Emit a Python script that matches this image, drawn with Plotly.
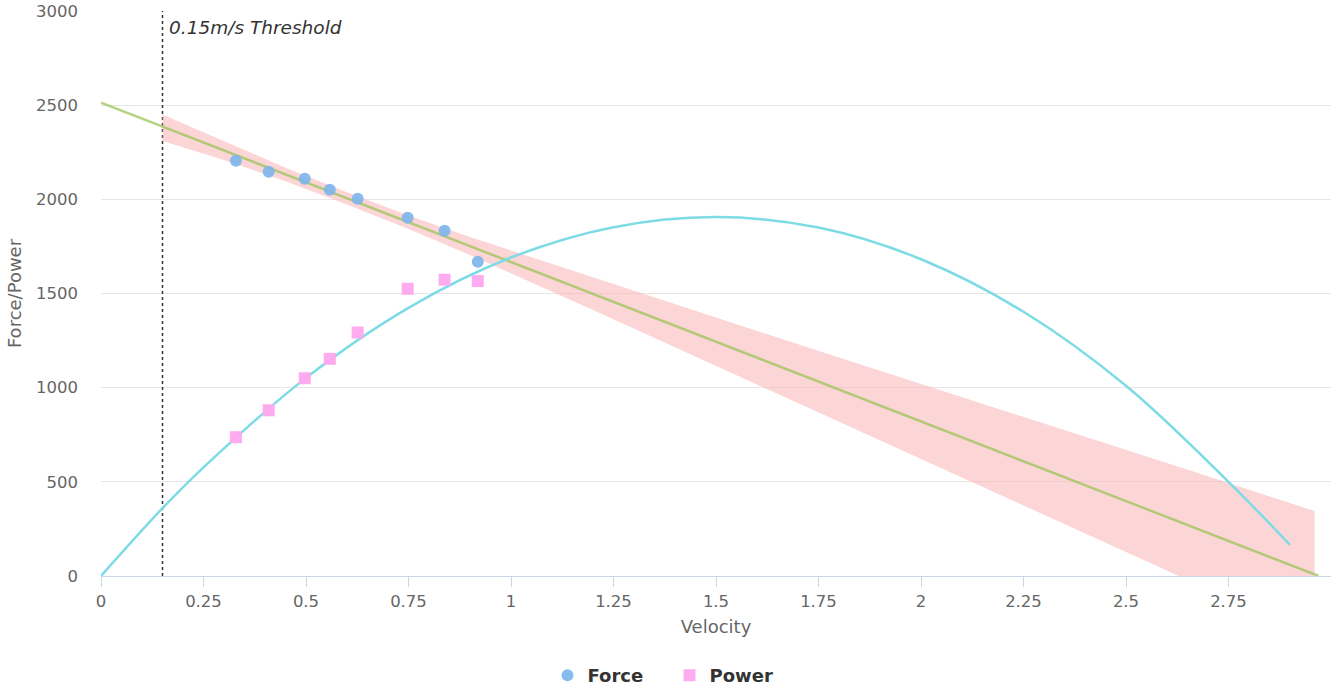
import plotly.graph_objects as go

velocity = [0.329, 0.409, 0.497, 0.558, 0.626, 0.748, 0.838, 0.919]
force = [2205, 2147, 2109, 2051, 2003, 1902, 1833, 1668]
power = [737, 880, 1050, 1153, 1293, 1525, 1573, 1566]

# Force-velocity regression line (end points)
fit_v = [0.0, 2.97]
fit_f = [2513, 0]

# Confidence band around regression
band_v = [0.15, 0.3, 0.45, 0.6, 0.75, 0.9, 1.2, 1.5, 1.8, 2.1, 2.4, 2.7, 2.96]
band_upper = [2450, 2309, 2168, 2037, 1914, 1800, 1584, 1372, 1160, 951, 738, 529, 345]
band_lower = [2310, 2209, 2096, 1973, 1842, 1704, 1412, 1116, 820, 521, 228, -71, -327]

# Power curve
curve_v = [0, 0.15, 0.25, 0.5, 0.75, 1.0, 1.25, 1.5, 1.75, 2.0, 2.25, 2.5, 2.75, 2.9]
curve_p = [0, 360, 577, 1052, 1424, 1691, 1852, 1906, 1850, 1682, 1403, 1010, 500, 165]

threshold = 0.15
threshold_label = "0.15m/s Threshold"
y_span = [0, 3000]

x_ticks = [0, 0.25, 0.5, 0.75, 1, 1.25, 1.5, 1.75, 2, 2.25, 2.5, 2.75]
x_ticktext = ["0", "0.25", "0.5", "0.75", "1", "1.25", "1.5", "1.75", "2", "2.25", "2.5", "2.75"]
y_ticks = [0, 500, 1000, 1500, 2000, 2500, 3000]

FONT = "DejaVu Sans"

fig = go.Figure()

# threshold line
fig.add_trace(go.Scatter(x=[threshold, threshold], y=y_span, mode="lines",
                         line=dict(color="#333333", width=1.5, dash="dot"),
                         showlegend=False, hoverinfo="skip"))

# band
fig.add_trace(go.Scatter(x=band_v, y=band_lower, mode="lines", line=dict(width=0),
                         showlegend=False, hoverinfo="skip"))
fig.add_trace(go.Scatter(x=band_v, y=band_upper, mode="lines", line=dict(width=0),
                         fill="tonexty", fillcolor="rgba(250,180,180,0.55)",
                         showlegend=False, hoverinfo="skip"))

# regression line
fig.add_trace(go.Scatter(x=fit_v, y=fit_f, mode="lines",
                         line=dict(color="rgb(150,195,80)", width=2.5), opacity=0.7,
                         showlegend=False))

# power curve
fig.add_trace(go.Scatter(x=curve_v, y=curve_p, mode="lines",
                         line=dict(color="#7ddbe6", width=2.5, shape="spline", smoothing=1.0),
                         showlegend=False))

# points
fig.add_trace(go.Scatter(x=velocity, y=force, mode="markers", name="Force",
                         marker=dict(symbol="circle", size=12, color="#7cb5ec", opacity=0.9)))
fig.add_trace(go.Scatter(x=velocity, y=power, mode="markers", name="Power",
                         marker=dict(symbol="square", size=12, color="#ffa6ef", opacity=0.95)))

fig.add_annotation(x=threshold, y=y_span[1], xref="x", yref="y", text="<i>" + threshold_label + "</i>",
                   showarrow=False, xanchor="left", yanchor="top", xshift=4, yshift=-4,
                   font=dict(family=FONT, size=18.5, color="#333333"))

fig.update_layout(
    width=1339, height=686,
    margin=dict(l=101, r=8, t=11, b=110, autoexpand=False),
    paper_bgcolor="white", plot_bgcolor="white",
    font=dict(family=FONT, color="#666666", size=16),
    legend=dict(orientation="h", xref="container", yref="container", x=0.5, y=0.0423,
                xanchor="center", yanchor="top", traceorder="normal", entrywidth=77,
                font=dict(family=FONT, size=18, color="#333333", weight="bold")),
    xaxis=dict(range=[0, 3.0], tickvals=x_ticks, ticktext=x_ticktext, automargin=False,
               showgrid=False, zeroline=False, showline=True, linecolor="#ccd6eb", linewidth=1,
               ticks="outside", ticklen=10, tickcolor="#ccd6eb",
               tickfont=dict(family=FONT, size=16.5, color="#666666"),
               title=dict(text="Velocity", font=dict(family=FONT, size=18, color="#666666"), standoff=10)),
    yaxis=dict(range=y_span, tickvals=y_ticks, showgrid=True, gridcolor="#e6e6e6", gridwidth=1,
               zeroline=False, showline=False, ticks="", automargin=False, ticklabelstandoff=22,
               ticklabeloverflow="allow",
               tickfont=dict(family=FONT, size=16.5, color="#666666"),
               title=dict(text="Force/Power", font=dict(family=FONT, size=18, color="#666666"), standoff=9)),
)

# remove the browser's default 8px page margin so the figure fills the window
fig.write_html("out.html", config={"displayModeBar": False},
               post_script="document.body.style.margin='0';")
